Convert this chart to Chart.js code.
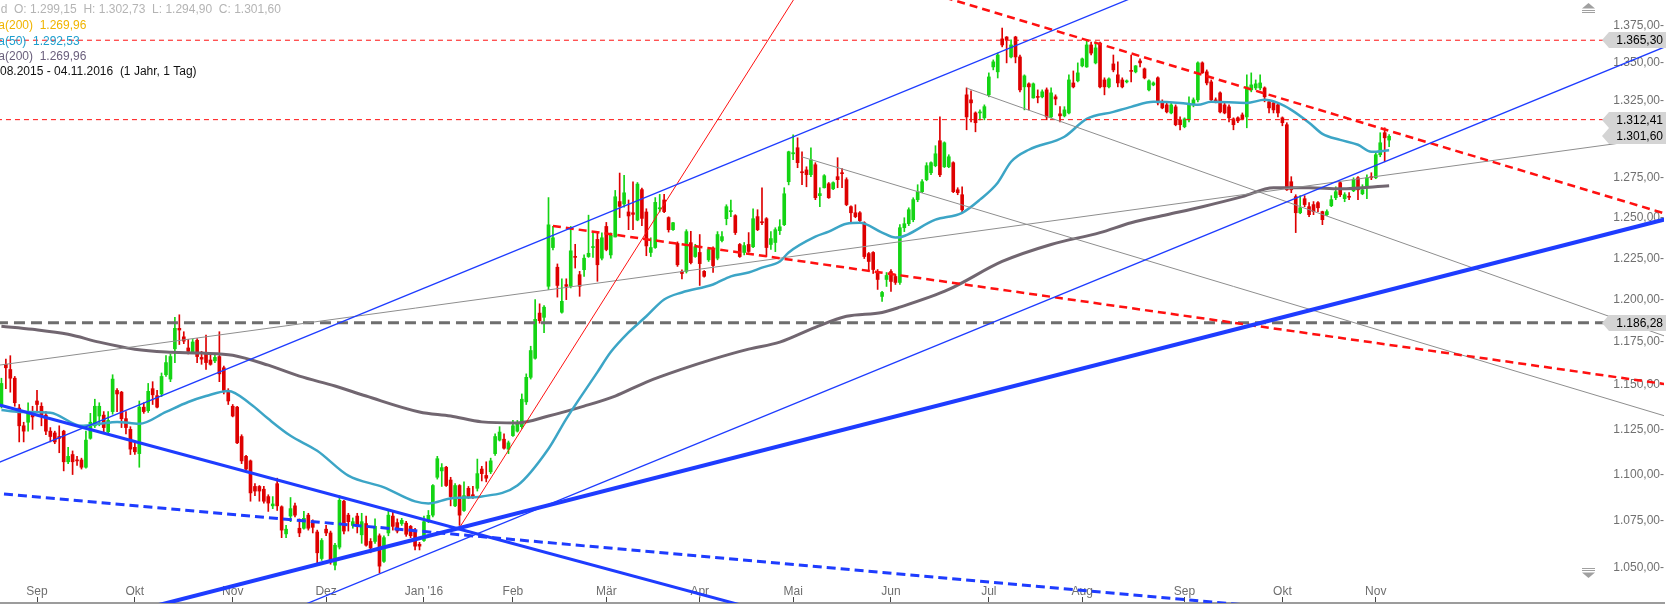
<!DOCTYPE html>
<html>
<head>
<meta charset="utf-8">
<script src="https://cdn.jsdelivr.net/npm/chart.js@4.4.1/dist/chart.umd.min.js"></script>
<style>
  html, body { margin: 0; padding: 0; background: #fff; }
  #wrap { width: 1666px; height: 605px; }
</style>
</head>
<body>
<div id="wrap"><canvas id="chart" width="1666" height="605"></canvas></div>
<script>
// daily candles, 20.08.2015 - 04.11.2016 (index = trading day)
const opens = [
  1138,1162,1159,1154,1137,1127,1129,1135,1141,1138,
  1133,1124,1123,1121,1124,1107,1111,1108,1108,1104,
  1120,1127,1132.5,1133,1123.6,1135,1147,1146,1131,1125,
  1115,1111.5,1137.5,1135.5,1148,1144,1145,1156,1153.5,1171,
  1183,1178,1171.5,1169,1176,1166,1168.5,1164.5,1164,1166.5,
  1160,1146.5,1138,1137.5,1121,1110,1107.5,1093.5,1093.5,1092,
  1088,1083,1095,1082.5,1068,1077.5,1083,1071,1071,1078,
  1074.5,1069,1055,1070.5,1068.5,1051.5,1061,1085.5,1078,1072.5,
  1077.5,1067.5,1073.5,1064,1064,1067,1053.5,1068.5,1077.5,1074,
  1073.5,1073.7,1072,1070,1062.5,1064.5,1074.7,1078,1098.5,1102,
  1104,1097,1083,1094,1080.5,1092.5,1089,1092.5,1103,1099.5,
  1101.5,1111.5,1119,1119.5,1114,1121.5,1124,1126.5,1140.5,1154.5,
  1165.5,1192,1189.5,1208,1231.5,1219.5,1192.5,1209,1208,1226,
  1215,1218,1226,1231.5,1236.5,1225,1244.5,1227,1238,1260,
  1258.5,1253.5,1253,1248.5,1267.5,1253.5,1228.5,1231.5,1255.5,1261,
  1250,1242.5,1234,1217,1217,1234.5,1226,1228.5,1217,1224,
  1230.3,1225,1235.8,1249.3,1253.7,1251.2,1233.4,1228.5,1233.4,1232,
  1250.6,1247.4,1249.3,1233.4,1234.6,1241.9,1245.6,1272.5,1290.3,1294.2,
  1278.8,1280,1277,1283.3,1263.7,1268.7,1271.2,1268,1275.7,1278.2,
  1273.8,1256.8,1253,1253,1246.8,1227.8,1228.5,1216.9,1201.9,1212.1,
  1216.9,1213.9,1210.3,1243.7,1246.2,1248.7,1261.2,1266.2,1273.8,1278.2,
  1282.7,1298.7,1282,1282,1284.6,1267.4,1264.3,1328.7,1325.4,1316.8,
  1316.8,1313.6,1328.7,1347.3,1344,1366.2,1367.5,1354,1367.5,1354,
  1334,1336,1326.7,1327.4,1327.4,1332,1314.2,1327.4,1316.2,1314.9,
  1316.8,1336.6,1338,1348,1347.3,1362.1,1350,1363.4,1338.6,1334,
  1349.3,1342,1338.6,1337.3,1344.6,1344,1351.3,1346,1332,1335.3,
  1340,1323.4,1322.1,1316.8,1320.8,1312.3,1307.8,1312.3,1322.1,1325.4,
  1350,1344,1337.3,1325.4,1330,1322.1,1320.8,1312.9,1313.6,1315.5,
  1314.2,1332,1333.3,1333.3,1333.3,1324.1,1323.4,1322.1,1313.6,1309.1,
  1272.5,1263.1,1253,1261.8,1256.8,1258.1,1259.3,1253.7,1251.8,1257.4,
  1262.4,1271.9,1261.8,1263.1,1266.8,1275,1264.9,1268.7,1275.7,1275,
  1289.7,1303.9,1299.15
];
const highs = [
  1154,1165,1167,1155,1139,1129,1140,1138,1147,1140,
  1135,1126,1124,1127,1124.5,1115,1113,1110,1109,1124,
  1134,1142,1140,1135,1135,1156,1148,1146.5,1135,1126.5,
  1118,1141,1140,1151,1152,1147,1157,1167,1168,1189.5,
  1191,1181,1176.5,1176.5,1177,1169.5,1179,1168,1168,1181,
  1161,1148,1139,1138,1122,1110.5,1108,1095,1094,1093.5,
  1089,1088,1098,1083,1072.5,1087.5,1084.5,1076,1080,1079,
  1075.5,1070,1065.5,1072.5,1069.5,1063,1088.5,1086,1079,1076.5,
  1079,1079,1077.5,1065.5,1076,1068,1067,1080.5,1080.5,1076,
  1076.3,1074.7,1072.5,1071,1063.5,1077.5,1080.5,1094.5,1110,1106,
  1104.5,1098.5,1095,1094.5,1096,1093.5,1093.5,1108.5,1104.5,1107,
  1109,1122.5,1126.5,1122.5,1118.5,1130,1130,1145,1156.5,1172.5,
  1200,1197.5,1196.5,1262.5,1244.5,1221.5,1212.5,1212.5,1244.5,1233.5,
  1217,1227,1251.5,1241,1240.5,1240.5,1247,1240.5,1267,1278,
  1276.5,1261,1272.5,1272,1268.5,1255.5,1237.5,1262.5,1264.5,1264.5,
  1250.5,1247,1235,1218,1242.5,1241.5,1233.5,1239.5,1217.5,1231.5,
  1232,1241.3,1241.3,1258,1261,1251.8,1234,1234.6,1240.7,1255.5,
  1254.9,1268.7,1250,1241.3,1243.7,1248.7,1268.7,1292,1302.5,1300.6,
  1291.6,1282,1294.2,1284.6,1268.7,1277,1272,1272.5,1287.8,1280.8,
  1275,1257.4,1258,1253.7,1247.4,1228.5,1229,1218.1,1204.9,1216.3,
  1218.1,1215.1,1245.6,1249.9,1256.1,1262.4,1270.6,1273.8,1284.6,1285.2,
  1295.5,1314.2,1298,1289.7,1285.2,1268.7,1269.3,1333.3,1331.3,1317.5,
  1318.8,1322.1,1343.3,1352,1356.6,1373.6,1367.8,1365.5,1368,1355.3,
  1342,1336.6,1336.6,1332,1332,1333.3,1333.3,1328.7,1320.9,1320.9,
  1342,1344.6,1350,1353.3,1365.5,1364.1,1364.1,1364.1,1340,1340,
  1355.3,1350.7,1340,1338.6,1355.3,1348.2,1352.7,1346.6,1338.6,1337.3,
  1340.6,1325.4,1323.4,1323.4,1322.1,1314.2,1313.6,1327.4,1326.7,1350.7,
  1350.7,1345.3,1338.6,1326.7,1330.7,1323.4,1322.1,1313.6,1314.2,1316.8,
  1342,1343.3,1338.6,1342,1334,1325.4,1324.1,1323.4,1314.2,1310.4,
  1275.7,1264.3,1263.7,1263.7,1259.3,1260,1260,1254,1254.9,1263.7,
  1269.3,1272.5,1265.6,1265.6,1275,1275.7,1270.6,1276.9,1278.2,1291,
  1303.9,1307.1,1302.73
];
const lows = [
  1137,1148,1146,1138,1118,1118,1124,1125,1135,1127,
  1122,1118,1117,1112,1102,1106,1100,1105,1103,1103.5,
  1119.5,1126,1127,1123.5,1122.5,1133.5,1135,1126,1122.5,1111,
  1111,1104,1134,1134.5,1139,1137,1143.5,1155,1152,1163,
  1173.5,1174,1168,1168.5,1163,1162,1159,1161.5,1163,1152,
  1145,1139,1132,1117,1106,1102.5,1085.5,1088.5,1085.5,1084.5,
  1080,1081.5,1080.5,1066,1066,1074.5,1077,1066.5,1070.5,1070,
  1068.5,1052.5,1054,1067,1052,1049,1060,1068,1069.5,1071,
  1068.5,1063,1061.5,1058,1063,1047.5,1053,1067,1070,1068.5,
  1072.5,1066.7,1066,1059.5,1059.5,1064,1074,1077,1097.5,1093.5,
  1093.5,1083,1082.5,1072.5,1080,1087,1087,1091,1096.5,1096,
  1100.5,1110.5,1118.5,1114,1111.5,1121,1123.5,1125.5,1139,1153.5,
  1165,1186,1180.5,1206,1230,1201.5,1192,1200,1207,1219,
  1202,1214,1225.5,1225.5,1211,1224,1229.5,1225,1238,1250,
  1256.5,1242.5,1242.5,1248,1245,1226.5,1226,1231,1253.5,1253,
  1241,1242,1220,1212.5,1216,1221.5,1225.5,1208.5,1213.5,1223,
  1216.3,1224,1235,1245.5,1250.5,1239.5,1225.5,1227,1228.5,1231.5,
  1241.9,1245.6,1226,1230.3,1229,1239.5,1245,1270.5,1286.5,1281.4,
  1270.6,1269.3,1275.7,1261.2,1256.8,1268.5,1262,1267.4,1268.7,1268.7,
  1257.4,1246.8,1249.9,1246.2,1224.8,1216.9,1215.7,1206.1,1198.9,1207.9,
  1204.9,1209.1,1209.1,1241.3,1245,1247.4,1259.9,1265.6,1273.1,1276.9,
  1282,1275.7,1281.5,1281.4,1265.6,1264.3,1253.7,1305.8,1311,1304.5,
  1312.3,1312.3,1327.4,1345.3,1339.9,1360.8,1350,1353.3,1350,1330.7,
  1318.8,1318.8,1326.5,1323.4,1326.7,1312.3,1313.6,1322.1,1311,1314.2,
  1316.2,1333.3,1337.3,1347.3,1347,1355.3,1349.3,1333.3,1328.7,1333.3,
  1344,1334,1333.3,1336.6,1337.3,1343.3,1347.3,1339.3,1331.3,1334.7,
  1322.1,1319.5,1316.8,1316.2,1308.4,1305.8,1307.1,1311,1320.8,1324.1,
  1343,1335.3,1324.1,1323.4,1316.8,1316.2,1311,1305.8,1310.4,1312.3,
  1307.1,1330.7,1332,1332,1324.1,1316.8,1316.8,1314.2,1308.4,1267,
  1265.6,1240.7,1252.4,1256.8,1250.6,1251.8,1253.7,1245.6,1251.2,1256.8,
  1261.2,1263.1,1259.9,1261.2,1266.2,1261.2,1264.3,1261.8,1273.8,1274.4,
  1288.4,1285.2,1294.90
];
const closes = [
  1151,1160,1154,1140,1127,1124,1134,1132,1139,1133,
  1124,1121,1118,1120,1107,1110,1107,1107.5,1104,1119,
  1129,1138,1138,1126,1130,1153.5,1145,1131,1126,1114,
  1112.5,1137.5,1135,1146.5,1144.5,1137.5,1155,1163,1166.5,1183,
  1182,1175.5,1169.5,1175,1166.5,1165,1163,1162,1166,1156.5,
  1147,1141,1132.5,1117.5,1107.5,1103,1090,1091,1091,1085.5,
  1084.5,1084,1083,1070,1070.5,1081.5,1078,1068.5,1076.3,1071,
  1071.5,1058,1064.5,1068.5,1054,1062,1086,1069.5,1074.5,1074.5,
  1072,1074.5,1062,1060.5,1072,1051,1066,1078,1072,1069.5,
  1075.2,1067.8,1067,1061.5,1061.5,1074.5,1077.9,1094,1108.7,1103.8,
  1094,1088,1094,1078,1088.5,1088,1088,1100.5,1100.5,1098,
  1107.5,1121,1123.5,1114.5,1117.5,1127,1129,1142,1154.5,1170,
  1188.3,1187.5,1195.5,1245.5,1237.5,1208.5,1199,1208,1229.5,1225.5,
  1208,1225,1228,1232,1221,1237.5,1230.3,1239,1263,1257,
  1265.5,1251,1252,1271,1249.5,1232.5,1231.5,1259.5,1256,1253.7,
  1242.5,1246.8,1221,1215.7,1241.3,1222.3,1232,1221.7,1214,1230.3,
  1220.5,1239.5,1238.2,1256.8,1254.3,1240.7,1226,1232.7,1229.1,1249.3,
  1242.5,1246.8,1231.5,1237,1242.5,1244.3,1264.9,1291.6,1291,1284.6,
  1278.2,1277,1286.5,1262.4,1265,1276.3,1262.4,1271.9,1273.8,1277.6,
  1258.1,1253,1250.6,1248.1,1226,1223,1218.1,1212.1,1204.3,1214.5,
  1210.9,1210.3,1243.7,1246.2,1254.9,1261.2,1266.2,1272.5,1282.7,1284.6,
  1290.3,1276.9,1297.4,1288.4,1266.2,1265.6,1254.9,1314.2,1323.4,1310.4,
  1317.5,1320.9,1340.6,1350.7,1355.3,1362.1,1365.5,1362.1,1354,1332,
  1341.3,1334,1336,1327,1330.7,1314.2,1330,1326,1314.9,1318.8,
  1338.6,1334,1343.3,1352.7,1362.1,1356.6,1360.1,1334,1334,1339.3,
  1345.3,1336.6,1334,1338,1344.3,1348,1350,1340,1338,1336.6,
  1323.4,1320.1,1317.5,1322.1,1309.1,1309.1,1312.9,1322.1,1325.4,1350,
  1343.3,1336.6,1325.4,1324.1,1317.5,1316.8,1313.6,1309.1,1311.6,1312.9,
  1334,1335.3,1336,1336.6,1327.4,1320.1,1318.8,1316.8,1310.4,1267.4,
  1267.4,1253,1256.1,1258.1,1251.8,1253.7,1256.1,1248.7,1253.7,1261.2,
  1266.2,1264.3,1264.3,1262.7,1273.8,1267.4,1267.4,1275,1275,1289.7,
  1297.4,1300.6,1301.60
];

// moving averages (index, value)
const ma50Idx = [0,4,11,18,22,26,31,37,42,46,51,56,60,65,71,78,86,93,96,101,108,116,123,127,134,137,141,145,149,153,160,164,168,171,175,177,183,186,190,193,198,201,210,216,220,224,227,231,239,244,250,254,259,265,269,272,280,284,287,290,294,297,301,305,308,312];
const ma50Val = [1135.9,1134.8,1134.3,1127.0,1128.1,1129.2,1128.1,1134.8,1140.4,1143.8,1146.7,1139.3,1130.9,1121.4,1113.1,1099.4,1093.0,1085.4,1084.3,1087.0,1088.1,1094.0,1114.2,1130.9,1157.5,1169.1,1180.6,1190.1,1200.1,1204.3,1209.1,1214.0,1216.3,1219.3,1223.0,1228.5,1238.2,1241.3,1246.2,1246.8,1240.7,1237.6,1248.7,1253.0,1261.2,1271.9,1285.2,1292.9,1301.3,1312.9,1317.5,1320.8,1324.1,1323.4,1322.1,1324.1,1323.4,1325.4,1323.4,1318.8,1310.4,1303.2,1299.3,1296.1,1291.6,1292.53];
const ma200Idx = [0,7,15,22,30,37,45,52,60,67,75,82,94,101,108,116,123,131,138,145,153,160,168,175,183,190,198,202,213,225,236,247,254,262,270,279,286,294,301,312];
const ma200Val = [1184.2,1182.4,1179.5,1174.9,1170.8,1169.1,1168.5,1167.3,1161.5,1155.2,1149.5,1143.8,1134.8,1132.5,1129.2,1128.6,1132.5,1138.1,1143.8,1151.8,1159.2,1165.0,1170.8,1174.9,1183.6,1190.1,1192.4,1195.5,1206.1,1223.0,1233.4,1240.7,1246.8,1251.8,1256.8,1263.1,1268.7,1268.7,1268.0,1269.96];

// x axis
const monthIdx = [8,30,52,73,95,115,136,157,178,200,222,243,266,288,309];
const monthLabels = ['Sep','Okt','Nov','Dez',"Jan '16",'Feb','Mär','Apr','Mai','Jun','Jul','Aug','Sep','Okt','Nov'];
// y axis
const yTicks = [1050,1075,1100,1125,1150,1175,1200,1225,1250,1275,1300,1325,1350,1375];

// drawn lines: [index, value] end points
const resistBlue = [[-2.56,1140.2],[178.7,1023.2]];
const dashBlue   = [[-2.56,1090.1],[317.6,1023.2]];
const supportBlue = [[22.2,1023.2],[381.9,1254.5]];
const chanUpper  = [[-1,1106.2],[260,1401.7]];
const chanLower  = [[59.67,1023.2],[381.9,1370.6]];
const redSteep   = [[103.1,1071.7],[180.9,1406.8]];
const redDashFeb = [[124,1244.8],[381.9,1147.8]];
const redDashJul = [[206.5,1399.8],[381.9,1246.0]];
const grayLong   = [[-2.56,1160.8],[381.9,1304.3]];
const grayMay    = [[180,1288.3],[381.9,1126.6]];
const grayJun    = [[217,1333.2],[381.9,1171.1]];
const redLevels  = [1365.30, 1312.41];
const grayLevel  = 1186.28;

const FONT = '"Liberation Sans", Arial, sans-serif';
const GREEN = '#14d414', RED = '#de0000', BLUE = '#1e3cff';
const last = closes.length - 1;

function de(v, d) {
  let [a, b] = v.toFixed(d).split('.');
  a = a.replace(/\B(?=(\d{3})+(?!\d))/g, '.');
  return b ? a + ',' + b : a;
}

function seg(p, color, width, dash, order) {
  return {
    type: 'line',
    data: p.map(q => ({ x: q[0], y: q[1] })),
    borderColor: color, borderWidth: width, borderDash: dash || [],
    pointRadius: 0, fill: false, tension: 0, order: order || 1
  };
}

const up = i => closes[i] >= opens[i];
const candleColor = c => up(c.dataIndex) ? GREEN : RED;

const overlay = {
  id: 'overlay',
  afterDatasetsDraw(chart) {
    const ctx = chart.ctx;
    const ys = chart.scales.y;
    ctx.save();

    // price tags
    ctx.font = '12px ' + FONT;
    ctx.textAlign = 'right';
    ctx.textBaseline = 'middle';
    [redLevels[0], redLevels[1], closes[last], grayLevel].forEach(v => {
      const y = Math.round(ys.getPixelForValue(v));
      ctx.fillStyle = '#d4d4d4';
      ctx.beginPath();
      ctx.moveTo(1602, y);
      ctx.lineTo(1609, y - 8);
      ctx.lineTo(1666, y - 8);
      ctx.lineTo(1666, y + 8);
      ctx.lineTo(1609, y + 8);
      ctx.closePath();
      ctx.fill();
      ctx.fillStyle = '#000';
      ctx.fillText(de(v, 2), 1663, y + 1);
    });

    // header text (cut at the left edge like the original)
    const rows = [
      { y: 10, x: 14, color: '#b4b4b4', cut: 'Gold  ',
        text: 'O: ' + de(opens[last], 2) + '  H: ' + de(highs[last], 2) + '  L: ' + de(lows[last], 2) + '  C: ' + de(closes[last], 2) },
      { y: 26, x: 5, color: '#f0b400', cut: 'Sma', text: '(200)  ' + de(ma200Val[ma200Val.length - 1], 2) },
      { y: 42, x: 5, color: '#1e9ecd', cut: 'Sma', text: '(50)  ' + de(ma50Val[ma50Val.length - 1], 2) },
      { y: 57, x: 5, color: '#6a5f7c', cut: 'Sma', text: '(200)  ' + de(ma200Val[ma200Val.length - 1], 2) },
      { y: 72, x: 0, color: '#111', cut: '20.', text: '08.2015 - 04.11.2016  (1 Jahr, 1 Tag)' }
    ];
    ctx.textAlign = 'left';
    rows.forEach(r => {
      ctx.fillStyle = r.color;
      const x0 = r.x - ctx.measureText(r.cut).width;
      ctx.fillText(r.cut + r.text, x0, r.y);
    });

    // scroll arrows
    ctx.fillStyle = '#a0a0a0';
    ctx.strokeStyle = '#a0a0a0';
    ctx.lineWidth = 1;
    ctx.beginPath(); ctx.moveTo(1582, 8.5); ctx.lineTo(1595, 8.5); ctx.lineTo(1588.5, 3); ctx.closePath(); ctx.fill();
    ctx.beginPath(); ctx.moveTo(1582, 10.5); ctx.lineTo(1595, 10.5); ctx.moveTo(1582, 12.5); ctx.lineTo(1595, 12.5); ctx.stroke();
    ctx.beginPath(); ctx.moveTo(1582, 568.5); ctx.lineTo(1595, 568.5); ctx.moveTo(1582, 570.5); ctx.lineTo(1595, 570.5); ctx.stroke();
    ctx.beginPath(); ctx.moveTo(1582, 572.5); ctx.lineTo(1595, 572.5); ctx.lineTo(1588.5, 578); ctx.closePath(); ctx.fill();

    ctx.restore();
  }
};

const idx = opens.map((_, i) => i);

new Chart(document.getElementById('chart'), {
  type: 'bar',
  data: {
    datasets: [
      seg(resistBlue, BLUE, 3, [], 1),
      seg(dashBlue, BLUE, 3, [9, 5], 1),
      seg(supportBlue, BLUE, 4, [], 1),
      seg(chanUpper, BLUE, 1.3, [], 1),
      seg(chanLower, BLUE, 1.3, [], 1),
      seg(redSteep, '#ff1010', 1, [], 1),
      seg(redDashFeb, '#ff1010', 2.5, [8, 5], 1),
      seg(redDashJul, '#ff1010', 2.5, [8, 5], 1),
      seg(grayLong, '#8e8e8e', 1, [], 2),
      seg(grayMay, '#8e8e8e', 1, [], 2),
      seg(grayJun, '#8e8e8e', 1, [], 2),
      seg([[-1, redLevels[0]], [375, redLevels[0]]], '#ff1010', 1, [5, 4], 2),
      seg([[-1, redLevels[1]], [375, redLevels[1]]], '#ff1010', 1, [5, 4], 2),
      seg([[-1, grayLevel], [375, grayLevel]], '#6e6e6e', 3, [11, 6], 2),
      {
        type: 'line', label: 'MA50',
        data: ma50Idx.map((v, k) => ({ x: v, y: ma50Val[k] })),
        borderColor: '#3ca5c6', borderWidth: 2.5, pointRadius: 0, fill: false,
        cubicInterpolationMode: 'monotone', order: 4
      },
      {
        type: 'line', label: 'MA200',
        data: ma200Idx.map((v, k) => ({ x: v, y: ma200Val[k] })),
        borderColor: '#716670', borderWidth: 3, pointRadius: 0, fill: false,
        cubicInterpolationMode: 'monotone', order: 5
      },
      {
        type: 'bar', label: 'body',
        data: idx.map(i => ({ x: i, y: [opens[i], closes[i]] })),
        backgroundColor: candleColor, borderWidth: 0,
        barThickness: 3, grouped: false, minBarLength: 1, order: 9
      },
      {
        type: 'bar', label: 'wick',
        data: idx.map(i => ({ x: i, y: [lows[i], highs[i]] })),
        backgroundColor: candleColor, borderWidth: 0,
        barThickness: 1, grouped: false, minBarLength: 1, order: 10
      }
    ]
  },
  options: {
    responsive: false,
    animation: false,
    events: [],
    layout: { padding: 0 },
    plugins: { legend: { display: false }, tooltip: { enabled: false } },
    scales: {
      x: {
        type: 'linear', position: 'bottom', min: -0.32, max: 373.8, offset: false,
        afterBuildTicks: s => { s.ticks = monthIdx.map(v => ({ value: v })); },
        afterFit: s => { s.height = 2; s.paddingLeft = 0; s.paddingRight = 0; },
        grid: { display: true, drawOnChartArea: false, drawTicks: true, tickLength: -6, color: '#444', offset: false },
        border: { display: true, color: '#9c9c9c', width: 2 },
        ticks: {
          mirror: true, autoSkip: false, maxRotation: 0, padding: 4, color: '#6e6e6e',
          font: { family: FONT, size: 12 },
          callback: v => { const k = monthIdx.indexOf(v); return k < 0 ? '' : monthLabels[k]; }
        }
      },
      y: {
        type: 'logarithmic', position: 'right', min: 1031.9, max: 1392.9, beginAtZero: false,
        afterBuildTicks: s => { s.ticks = yTicks.map(v => ({ value: v })); },
        afterFit: s => { s.width = 2; s.paddingTop = 0; s.paddingBottom = 0; },
        grid: { display: false },
        border: { display: false },
        ticks: {
          mirror: true, padding: 0, color: '#707070',
          font: { family: FONT, size: 12 },
          callback: v => de(v, 2) + '-'
        }
      }
    }
  },
  plugins: [overlay]
});
</script>
</body>
</html>
